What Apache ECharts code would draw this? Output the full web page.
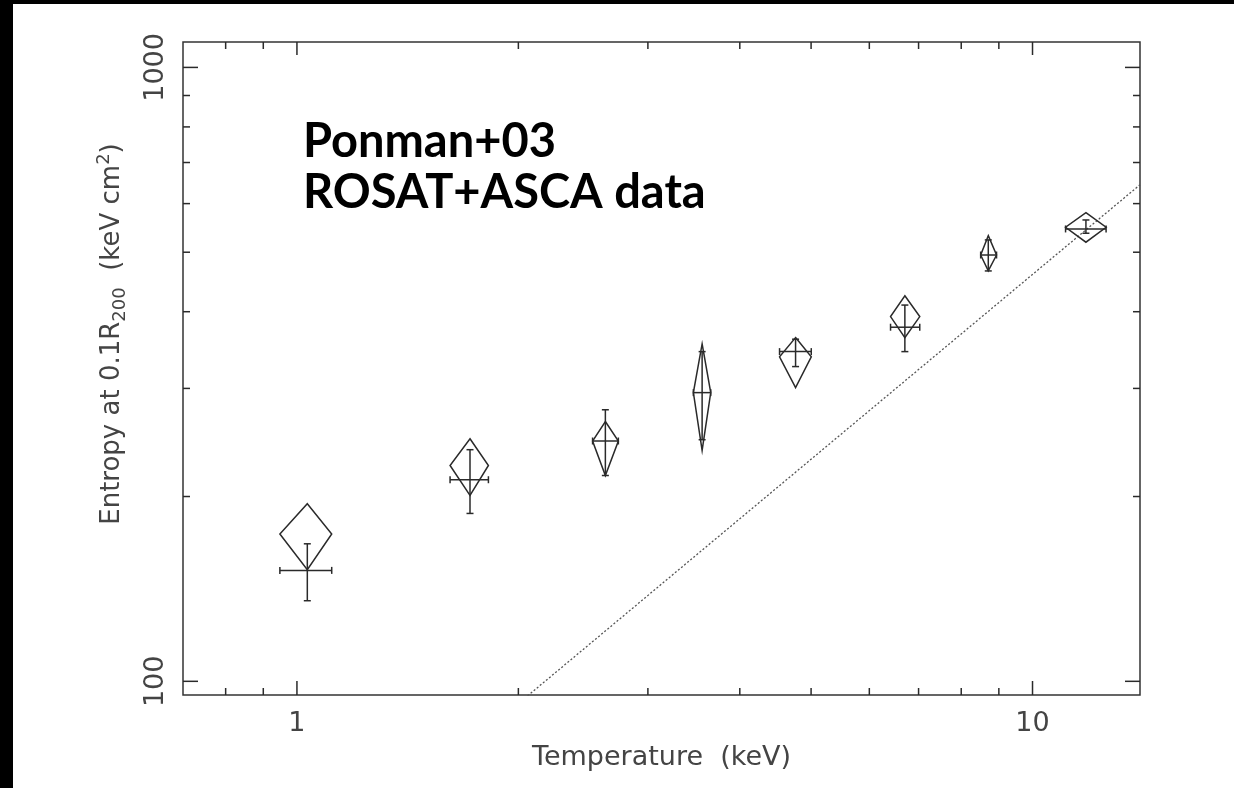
<!DOCTYPE html>
<html>
<head>
<meta charset="utf-8">
<script src="https://cdn.jsdelivr.net/npm/echarts@6/dist/echarts.min.js"></script>
<style>
html,body{margin:0;padding:0;background:#fff;}
#chart{width:1234px;height:788px;}
</style>
</head>
<body>
<div id="chart"></div>
<script>
// Cross (error bar) values
const temps       = [1.033, 1.719, 2.626, 3.555, 4.763, 6.706, 8.707, 11.82];
const tempLo      = [0.948, 1.615, 2.523, 3.459, 4.530, 6.412, 8.502, 11.09];
const tempHi      = [1.115, 1.821, 2.735, 3.652, 5.003, 7.026, 8.935, 12.59];
const entropy     = [151.6, 213.0, 246.3, 295.3, 344.4, 377.4, 494.8, 545.6];
const entropyLo   = [135.3, 187.7, 216.4, 247.5, 325.6, 344.4, 466.1, 536.9];
const entropyHi   = [167.5, 238.4, 276.9, 344.4, 360.8, 410.1, 523.6, 564.3];
// Diamond markers (top, side, bottom entropy; sides at tempLo / tempHi)
const diamondTop    = [194.7, 248.4, 265.0, 354.5, 363.0, 424.6, 532.1, 580.0];
const diamondMid    = [173.8, 224.7, 246.3, 295.3, 337.7, 392.7, 494.8, 549.1];
const diamondBottom = [152.0, 200.8, 216.4, 237.7, 301.0, 363.0, 466.1, 519.1];
// Self-similar dotted line S = 46 T
const lineT = [2, 14];
const lineS = [92, 644];
// Axis ticks
const xMajorTicks = [1, 10];
const xMinorTicks = [0.8, 0.9, 2, 3, 4, 5, 6, 7, 8, 9];
const yMajorTicks = [100, 1000];
const yMinorTicks = [200, 300, 400, 500, 600, 700, 800, 900];
const xTickLabels = [1, 10];
const yTickLabels = [100, 1000];

const X_MIN = 0.7, X_MAX = 14, Y_MIN = 95, Y_MAX = 1100;
const INK = '#2a2a2a';
const LABEL = '#444';
const FONT = 'DejaVu Sans';

const pointData = temps.map((t, i) => [t, entropy[i], tempLo[i], tempHi[i], entropyLo[i], entropyHi[i], diamondTop[i], diamondMid[i], diamondBottom[i]]);
const xTickData = xMajorTicks.map(v => [v, Y_MIN, 1]).concat(xMinorTicks.map(v => [v, Y_MIN, 0]));
const yTickData = yMajorTicks.map(v => [X_MIN, v, 1]).concat(yMinorTicks.map(v => [X_MIN, v, 0]));

function isIn(list, v) {
  return list.some(t => Math.abs(v - t) < 1e-6 * t);
}

const chart = echarts.init(document.getElementById('chart'), null, {renderer: 'canvas'});

function lineEl(x1, y1, x2, y2, w) {
  return {type: 'line', shape: {x1, y1, x2, y2}, style: {stroke: INK, lineWidth: w || 1.5}};
}

const option = {
  backgroundColor: '#fff',
  animation: false,
  grid: {left: 183, right: 94, top: 42, bottom: 93, show: true, borderColor: '#333', borderWidth: 1.5, backgroundColor: 'transparent'},
  xAxis: {
    type: 'log', logBase: 10, min: X_MIN, max: X_MAX,
    axisLine: {show: false}, axisTick: {show: false}, splitLine: {show: false},
    axisLabel: {
      margin: 15, color: LABEL, fontSize: 27, fontFamily: FONT,
      showMinLabel: true, showMaxLabel: true,
      formatter: v => isIn(xTickLabels, v) ? String(Math.round(v)) : ''
    },
    name: 'Temperature  (keV)', nameLocation: 'middle', nameGap: 49,
    nameTextStyle: {color: LABEL, fontSize: 27, fontFamily: FONT}
  },
  yAxis: {
    type: 'log', logBase: 10, min: Y_MIN, max: Y_MAX,
    axisLine: {show: false}, axisTick: {show: false}, splitLine: {show: false},
    axisLabel: {
      margin: 14, rotate: 90, color: LABEL, fontSize: 27, fontFamily: FONT,
      showMinLabel: true, showMaxLabel: true,
      formatter: v => isIn(yTickLabels, v) ? String(Math.round(v)) : ''
    }
  },
  graphic: [
    {type: 'rect', left: 0, top: 0, shape: {width: 13, height: 788}, style: {fill: '#000'}, z: 100},
    {type: 'rect', left: 0, top: 0, shape: {width: 1234, height: 4}, style: {fill: '#000'}, z: 100},
    {type: 'text', x: 303, y: 142, z: 50, style: {text: 'Ponman+03', fill: '#000', font: 'bold 47px Lato', textAlign: 'left', textVerticalAlign: 'middle'}},
    {type: 'text', x: 303, y: 193, z: 50, style: {text: 'ROSAT+ASCA data', fill: '#000', font: 'bold 47px Lato', textAlign: 'left', textVerticalAlign: 'middle'}},
    {type: 'text', x: 112, y: 334, rotation: Math.PI / 2, z: 50,
      style: {
        text: '{n|Entropy at 0.1R}{sub|200}{n|  (keV cm}{sup|2}{n|)}',
        textAlign: 'center', textVerticalAlign: 'middle',
        rich: {
          n: {fontSize: 26, fontFamily: FONT, fill: LABEL, color: LABEL, lineHeight: 34, verticalAlign: 'middle'},
          sub: {fontSize: 18, fontFamily: FONT, fill: LABEL, color: LABEL, lineHeight: 34, verticalAlign: 'bottom'},
          sup: {fontSize: 18, fontFamily: FONT, fill: LABEL, color: LABEL, lineHeight: 34, verticalAlign: 'top'}
        }
      }
    }
  ],
  series: [
    {
      type: 'line', name: 'self-similar', data: lineT.map((t, i) => [t, lineS[i]]),
      showSymbol: false, symbol: 'none', clip: true, silent: true,
      lineStyle: {color: '#555', width: 1.3, type: [2, 2]}, z: 2
    },
    {
      type: 'custom', name: 'xticks', data: xTickData, clip: false, silent: true, z: 5,
      renderItem: (params, api) => {
        const v = api.value(0), major = api.value(2) === 1;
        const b = api.coord([v, Y_MIN]), t = api.coord([v, Y_MAX]);
        const lb = major ? 14 : 7, lt = major ? 13 : 7;
        return {type: 'group', children: [lineEl(b[0], b[1], b[0], b[1] - lb), lineEl(t[0], t[1], t[0], t[1] + lt)]};
      }
    },
    {
      type: 'custom', name: 'yticks', data: yTickData, clip: false, silent: true, z: 5,
      renderItem: (params, api) => {
        const v = api.value(1), major = api.value(2) === 1;
        const l = api.coord([X_MIN, v]), r = api.coord([X_MAX, v]);
        const len = major ? 15 : 7;
        return {type: 'group', children: [lineEl(l[0], l[1], l[0] + len, l[1]), lineEl(r[0], r[1], r[0] - len, r[1])]};
      }
    },
    {
      type: 'custom', name: 'Ponman+03', data: pointData, clip: false, z: 10,
      renderItem: (params, api) => {
        const T = api.value(0), S = api.value(1), tl = api.value(2), th = api.value(3);
        const sl = api.value(4), sh = api.value(5), dt = api.value(6), dm = api.value(7), db = api.value(8);
        const lo = api.coord([tl, S]), hi = api.coord([th, S]);
        const yl = api.coord([T, sl]), yh = api.coord([T, sh]);
        const cap = 3.5;
        const pTop = api.coord([T, dt]), pRight = api.coord([th, dm]), pBot = api.coord([T, db]), pLeft = api.coord([tl, dm]);
        return {
          type: 'group',
          children: [
            lineEl(lo[0], lo[1], hi[0], hi[1]),
            lineEl(yl[0], yl[1], yh[0], yh[1]),
            lineEl(lo[0], lo[1] - cap, lo[0], lo[1] + cap),
            lineEl(hi[0], hi[1] - cap, hi[0], hi[1] + cap),
            lineEl(yl[0] - cap, yl[1], yl[0] + cap, yl[1]),
            lineEl(yh[0] - cap, yh[1], yh[0] + cap, yh[1]),
            {type: 'polygon', shape: {points: [pTop, pRight, pBot, pLeft]}, style: {fill: 'none', stroke: INK, lineWidth: 1.5}}
          ]
        };
      }
    }
  ]
};
chart.setOption(option);
</script>
</body>
</html>
